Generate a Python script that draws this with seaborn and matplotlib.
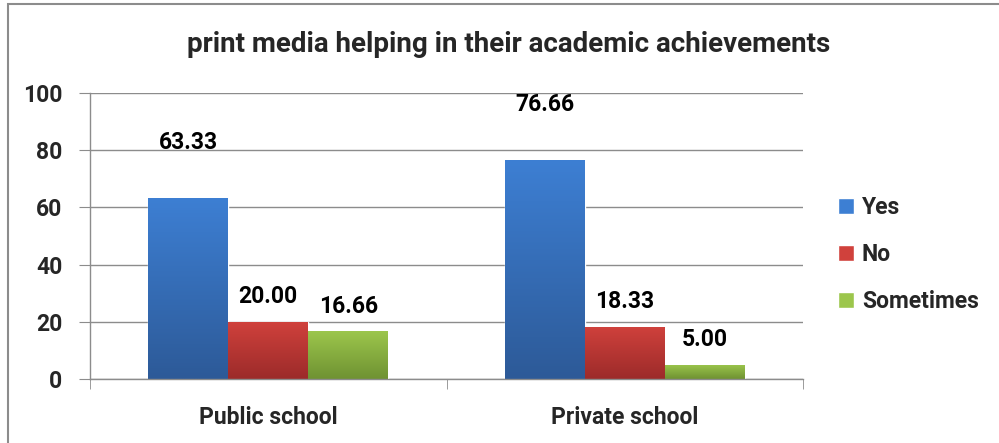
import matplotlib
matplotlib.use("Agg")
import matplotlib.pyplot as plt
import matplotlib.colors as mcolors
import numpy as np
import pandas as pd
import seaborn as sns

schools = ["Public school", "Private school"]
responses = ["Yes", "No", "Sometimes"]
yes_vals = [63.33, 76.66]
no_vals = [20.00, 18.33]
sometimes_vals = [16.66, 5.00]

colors = {"Yes": ("#3d7fd3", "#2d5a98"),
          "No": ("#d0413c", "#9c2b2a"),
          "Sometimes": ("#9cc64c", "#6f9232")}
label_offsets = {"Yes": 40, "No": 18, "Sometimes": 18}

df = pd.DataFrame({
    "school": schools * 3,
    "response": ["Yes"] * 2 + ["No"] * 2 + ["Sometimes"] * 2,
    "value": yes_vals + no_vals + sometimes_vals,
})

sns.set_style("white")
plt.rcParams["font.family"] = ["Roboto", "DejaVu Sans"]
W = "bold"
FS = 16.5

fig = plt.figure(figsize=(9.99, 4.43), dpi=100)
ax = fig.add_axes([90 / 999, 1 - 379 / 443, 713 / 999, 286 / 443])

palette = {k: v[0] for k, v in colors.items()}
sns.barplot(data=df, x="school", y="value", hue="response", hue_order=responses,
            order=schools, palette=palette, width=0.673, gap=0, ax=ax,
            saturation=1, legend=True, errorbar=None)

# gradient fill + labels
for container, resp in zip(ax.containers, responses):
    top, bot = colors[resp]
    cmap = mcolors.LinearSegmentedColormap.from_list(resp, [bot, top])
    for bar in container:
        x0, w, h = bar.get_x(), bar.get_width(), bar.get_height()
        grad = np.linspace(0, 1, 100).reshape(-1, 1)
        im = ax.imshow(grad, extent=(x0, x0 + w, 0, h), origin="lower",
                       aspect="auto", cmap=cmap, zorder=bar.get_zorder() + 0.1)
        im.set_clip_path(bar)
        ax.annotate(f"{h:.2f}", (x0 + w / 2, h), xytext=(0, label_offsets[resp]),
                    textcoords="offset points", ha="center", va="center",
                    fontsize=FS, fontweight=W, color="black")
ax.set_xlim(-0.5, 1.5)
ax.set_ylim(0, 100)
ax.set_yticks(range(0, 101, 20))

ax.grid(axis="y", color="#8c8c8c", linewidth=1)
ax.set_axisbelow(True)
for s in ["top", "right"]:
    ax.spines[s].set_visible(False)
for s in ["left", "bottom"]:
    ax.spines[s].set_color("#8c8c8c")
    ax.spines[s].set_linewidth(1)

ax.set_xlabel("")
ax.set_ylabel("")
ax.tick_params(axis="y", which="major", left=True, length=8, color="#8c8c8c",
               labelsize=FS, pad=12)
ax.set_xticks([0, 1])
ax.set_xticklabels(schools)
ax.tick_params(axis="x", which="major", bottom=False, labelsize=FS, pad=16)
ax.set_xticks([-0.5, 0.5, 1.5], minor=True)
ax.tick_params(axis="x", which="minor", bottom=True, length=7, color="#8c8c8c")
for lbl in ax.get_yticklabels() + ax.get_xticklabels():
    lbl.set_fontweight(W)

handles, labels = ax.get_legend_handles_labels()
ax.legend(handles, labels, loc="center left", bbox_to_anchor=(1.02, 0.435),
          frameon=False, handlelength=0.7, handleheight=0.7,
          handletextpad=0.35, labelspacing=1.05, prop={"weight": W, "size": FS})

fig.text(0.509, 1 - 45 / 443, "print media helping in their academic achievements",
         ha="center", va="center", fontsize=20, fontweight=W)

fig.patches.append(plt.Rectangle((8 / 999, -0.1), 1.1, 1 - 4.5 / 443 + 0.1,
                                 transform=fig.transFigure, fill=False,
                                 edgecolor="#8c8c8c", linewidth=1.5))

fig.savefig("out.png", dpi=100)
